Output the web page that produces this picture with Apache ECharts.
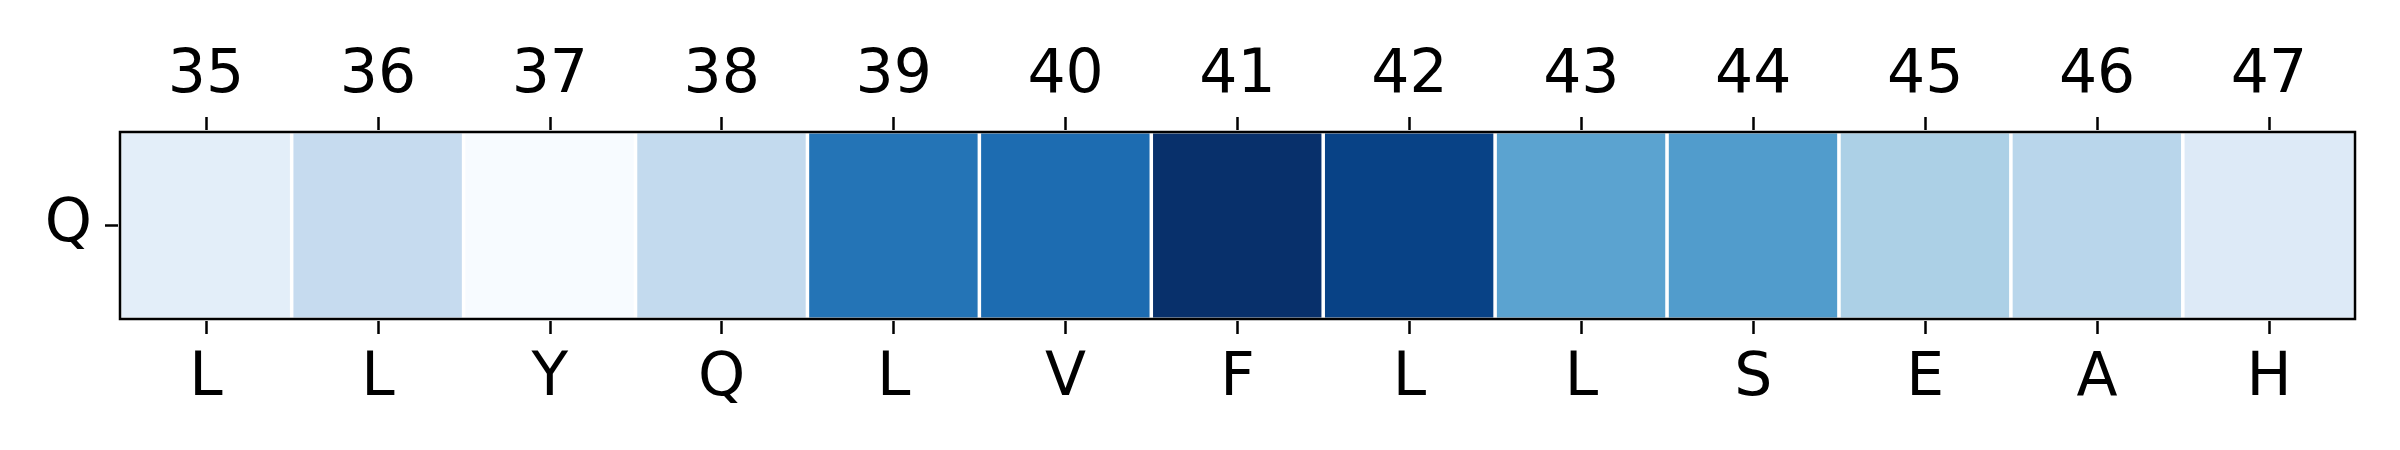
<!DOCTYPE html>
<html>
<head>
<meta charset="utf-8">
<script src="https://cdn.jsdelivr.net/npm/echarts@6/dist/echarts.min.js"></script>
<style>html,body{margin:0;padding:0;background:#fff;}#c{width:2400px;height:450px;}</style>
</head>
<body>
<div id="c"></div>
<script>
const positions = ['35','36','37','38','39','40','41','42','43','44','45','46','47'];
const residues = ['L','L','Y','Q','L','V','F','L','L','S','E','A','H'];
const rowLabels = ['Q'];
const values = [0.10, 0.25, 0.00, 0.26, 0.74, 0.77, 1.00, 0.93, 0.55, 0.58, 0.33, 0.29, 0.13];
const blues = ['#f7fbff','#deebf7','#c6dbef','#9ecae1','#6baed6','#4292c6','#2171b5','#08519c','#08306b'];

const data = values.map((v, i) => [i, 0, v]);
const font = '"DejaVu Sans", sans-serif';
const chart = echarts.init(document.getElementById('c'), null, {renderer: 'canvas'});
chart.setOption({
  animation: false,
  backgroundColor: '#ffffff',
  grid: {left: 120, right: 45, top: 132, bottom: 131, show: true, borderColor: '#000', borderWidth: 2.5, backgroundColor: 'transparent', z: 10},
  xAxis: [
    {type: 'category', data: positions, position: 'top', gridIndex: 0,
     axisLine: {show: true, lineStyle: {color: '#000', width: 2.5}},
     axisTick: {show: true, alignWithLabel: true, length: 15, lineStyle: {color: '#000', width: 2.5}},
     axisLabel: {color: '#000', fontSize: 60, fontFamily: font, margin: 26},
     splitLine: {show: false}},
    {type: 'category', data: residues, position: 'bottom', gridIndex: 0,
     axisLine: {show: true, lineStyle: {color: '#000', width: 2.5}},
     axisTick: {show: true, alignWithLabel: true, length: 15, lineStyle: {color: '#000', width: 2.5}},
     axisLabel: {color: '#000', fontSize: 60, fontFamily: font, margin: 30, interval: 0},
     splitLine: {show: false}}
  ],
  yAxis: {type: 'category', data: rowLabels,
     axisLine: {show: true, lineStyle: {color: '#000', width: 2.5}},
     axisTick: {show: true, alignWithLabel: true, length: 15, lineStyle: {color: '#000', width: 2.5}},
     axisLabel: {color: '#000', fontSize: 60, fontFamily: font, margin: 28},
     splitLine: {show: false}},
  visualMap: {show: false, min: 0, max: 1, dimension: 2, inRange: {color: blues}},
  series: [{
    type: 'heatmap', xAxisIndex: 0, yAxisIndex: 0, data: data,
    itemStyle: {borderColor: '#ffffff', borderWidth: 3.5},
    emphasis: {disabled: true}
  }]
});
</script>
</body>
</html>
